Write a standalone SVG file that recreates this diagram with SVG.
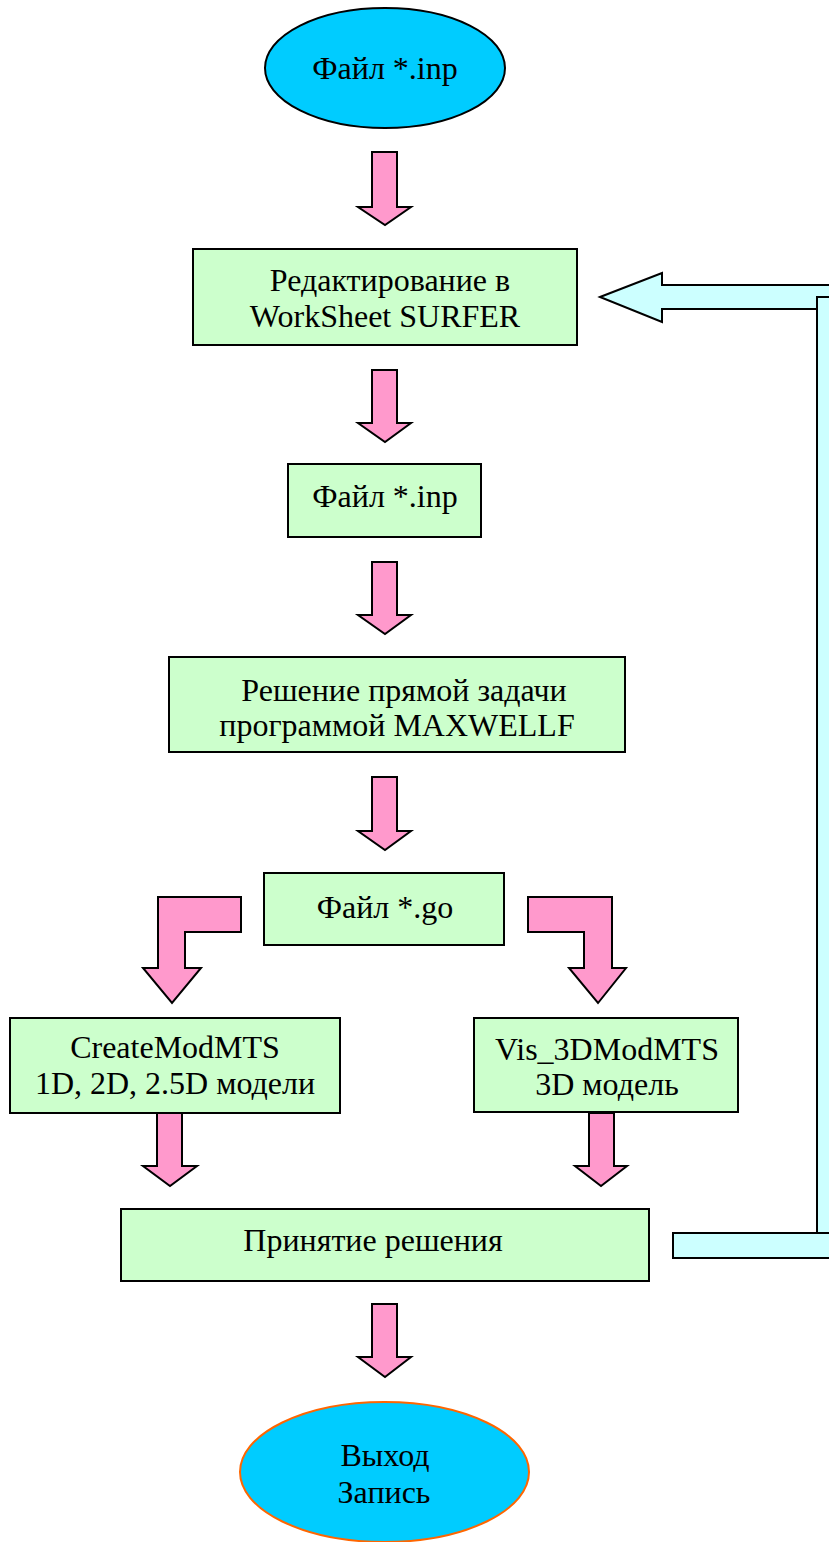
<svg xmlns="http://www.w3.org/2000/svg" width="829" height="1542" viewBox="0 0 829 1542">
<style>
text{font-family:"Liberation Serif","Times New Roman",serif;font-size:32px;fill:#000;text-anchor:middle}
.box{fill:#ccffcc;stroke:#000;stroke-width:2}
.term{fill:#00ccff;stroke:#000;stroke-width:2}
.term2{fill:#00ccff;stroke:#ff6600;stroke-width:2}
.pink{fill:#ff99cc;stroke:#000;stroke-width:2;stroke-linejoin:miter}
.cyan{fill:#ccffff;stroke:#000;stroke-width:2}
</style>
<rect width="829" height="1542" fill="#fff"/>
<g id="connectors">
<polygon class="pink" points="372,152 397,152 397,207 411,207 385,225 358,207 372,207"/>
<polygon class="pink" points="372,370 397,370 397,423 411,423 385,442 358,423 372,423"/>
<polygon class="pink" points="372,562 397,562 397,615 411,615 385,634 358,615 372,615"/>
<polygon class="pink" points="372,777 397,777 397,831 411,831 385,850 358,831 372,831"/>
<polygon class="pink" points="241,897 241,932 185,932 185,968 201,968 172,1003 143,968 158,968 158,897"/>
<polygon class="pink" points="528,897 528,932 584,932 584,968 569,968 598,1003 626,968 612,968 612,897"/>
<polygon class="pink" points="157,1113 182,1113 182,1166 197,1166 170,1186 143,1166 157,1166"/>
<polygon class="pink" points="589,1113 614,1113 614,1166 627,1166 601,1186 575,1166 589,1166"/>
<polygon class="pink" points="372,1304 397,1304 397,1357 411,1357 385,1377 358,1357 372,1357"/>
<polygon class="cyan" points="600,297 662,273 662,285 850,285 850,309 662,309 662,322"/>
<rect class="cyan" x="817" y="297" width="24" height="961"/>
<rect class="cyan" x="673" y="1233" width="180" height="25"/>
</g>
<g id="start">
<ellipse class="term" cx="385" cy="68" rx="120" ry="60"/>
<text x="385" y="79">Файл *.inp</text>
</g>
<g id="edit">
<rect class="box" x="193" y="249" width="384" height="96"/>
<text x="390" y="291">Редактирование в</text>
<text x="385" y="327">WorkSheet SURFER</text>
</g>
<g id="inp">
<rect class="box" x="288" y="464" width="193" height="73"/>
<text x="385" y="507">Файл *.inp</text>
</g>
<g id="solve">
<rect class="box" x="169" y="657" width="456" height="95"/>
<text x="404" y="701">Решение прямой задачи</text>
<text x="397" y="736">программой MAXWELLF</text>
</g>
<g id="go">
<rect class="box" x="264" y="873" width="240" height="72"/>
<text x="385" y="918">Файл *.go</text>
</g>
<g id="create">
<rect class="box" x="10" y="1018" width="330" height="95"/>
<text x="175" y="1058">CreateModMTS</text>
<text x="175" y="1094">1D, 2D, 2.5D модели</text>
</g>
<g id="vis">
<rect class="box" x="474" y="1018" width="264" height="94"/>
<text x="607" y="1060">Vis_3DModMTS</text>
<text x="607" y="1095">3D модель</text>
</g>
<g id="decide">
<rect class="box" x="121" y="1209" width="528" height="72"/>
<text x="373" y="1251">Принятие решения</text>
</g>
<g id="exit">
<ellipse class="term2" cx="384.5" cy="1472" rx="144.5" ry="70"/>
<text x="385" y="1466">Выход</text>
<text x="384" y="1503">Запись</text>
</g>
</svg>
